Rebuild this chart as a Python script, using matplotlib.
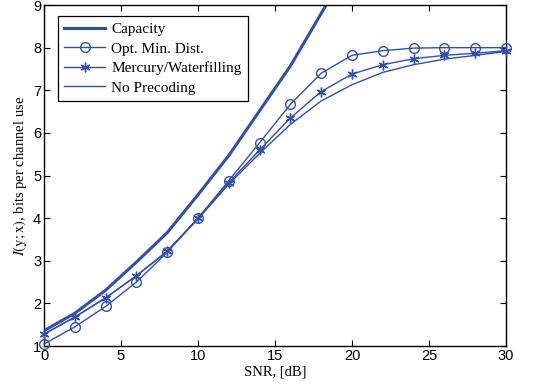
import numpy as np
import matplotlib.pyplot as plt

plt.rcParams['mathtext.fontset'] = 'stix'

############################################
# DATA
############################################
snr = [0, 2, 4, 6, 8, 10, 12, 14, 16, 18, 20, 22, 24, 26, 28, 30]

snr_cap = [0, 2, 4, 6, 8, 10, 12, 14, 16, 18, 20]
capacity = [1.36, 1.77, 2.31, 2.97, 3.66, 4.55, 5.47, 6.52, 7.57, 8.8, 10.05]

opt_min_dist = [1.05, 1.45, 1.93, 2.5, 3.2, 4.0, 4.88, 5.77, 6.67, 7.4, 7.82, 7.93, 7.99, 8.0, 8.0, 8.0]
mercury = [1.28, 1.68, 2.13, 2.65, 3.23, 4.0, 4.83, 5.6, 6.35, 6.97, 7.38, 7.6, 7.74, 7.82, 7.87, 7.93]
no_precoding = [1.28, 1.68, 2.13, 2.65, 3.22, 3.98, 4.8, 5.52, 6.2, 6.75, 7.13, 7.42, 7.6, 7.73, 7.82, 7.91]

############################################
# PLOT
############################################
c = '#2f4fb0'

fig = plt.figure(figsize=(5.46, 3.88), dpi=100)
ax = fig.add_axes([0.0806, 0.108, 0.846, 0.879])

ax.plot(snr_cap, capacity, color=c, lw=2.2, label='Capacity')
ax.plot(snr, opt_min_dist, color=c, lw=1.0, marker='o', ms=7, mfc='none',
        mew=1.0, label='Opt. Min. Dist.', clip_on=False, zorder=3)
ax.plot(snr, mercury, color=c, lw=1.0, marker=(6, 2, 0), ms=7,
        mew=1.0, label='Mercury/Waterfilling', clip_on=False, zorder=3)
ax.plot(snr, no_precoding, color=c, lw=1.0, label='No Precoding')

ax.set_xlim(0, 30)
ax.set_ylim(1, 9)
ax.set_xticks(range(0, 31, 5))
ax.set_yticks(range(1, 10))
ax.tick_params(direction='in', top=True, right=True, length=4, width=0.8,
               labelsize=10.5, pad=2)
for lab in ax.get_xticklabels() + ax.get_yticklabels():
    lab.set_fontfamily('Liberation Sans')
for s in ax.spines.values():
    s.set_linewidth(1.0)

ax.set_xlabel('SNR, [dB]', family='Liberation Serif', fontsize=10.5, labelpad=2)
ax.set_ylabel(r'$I(\mathrm{y};\mathrm{x})$, bits per channel use',
              family='Liberation Serif', fontsize=10.5, labelpad=3)

leg = ax.legend(loc='upper left', bbox_to_anchor=(0.02, 0.98),
                prop={'family': 'Liberation Serif', 'size': 11},
                fancybox=False, framealpha=1, edgecolor='black',
                handlelength=2.7, borderpad=0.4, labelspacing=0.38,
                handletextpad=0.4, borderaxespad=0.3)
leg.get_frame().set_linewidth(0.9)
leg.set_zorder(5)

plt.savefig('out.png', dpi=100)
plt.close()
